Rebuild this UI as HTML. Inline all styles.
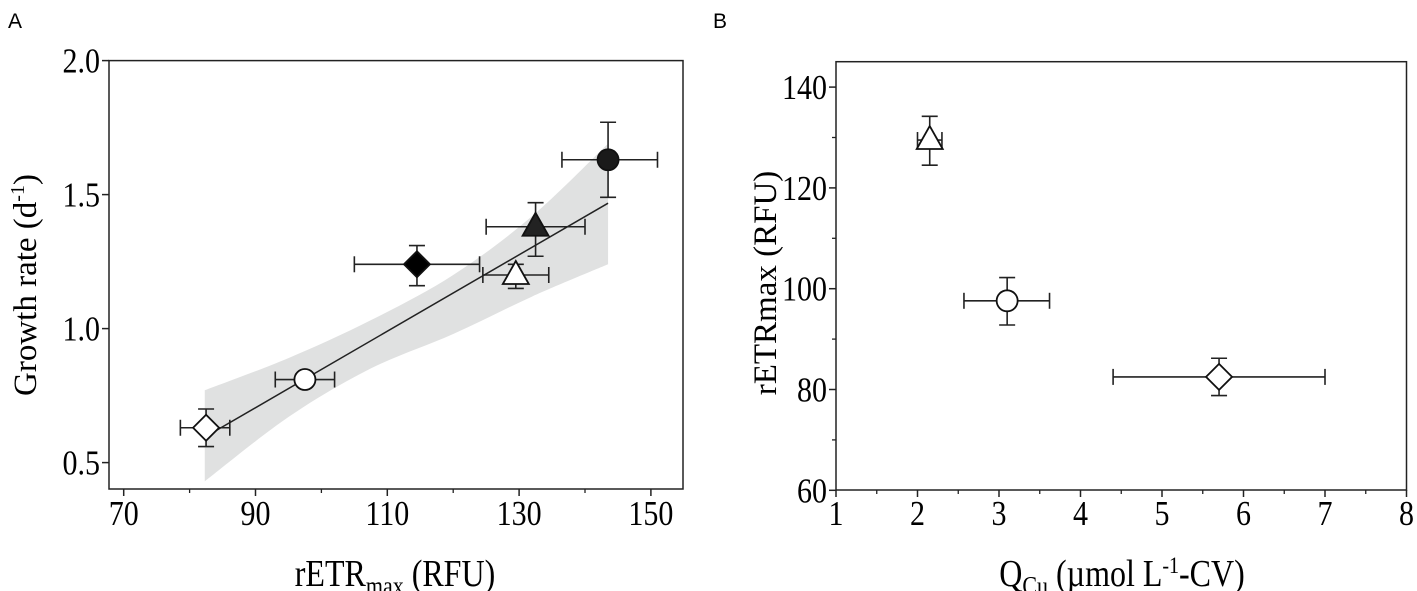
<!DOCTYPE html>
<html><head><meta charset="utf-8"><style>
body{margin:0;background:#fff;}
svg{display:block;font-family:"Liberation Serif",serif;}
</style></head><body>
<svg id="fig" width="1417" height="591" viewBox="0 0 1417 591">
<text x="8" y="28" font-family="Liberation Sans, sans-serif" font-size="21">A</text>
<text x="713" y="28" font-family="Liberation Sans, sans-serif" font-size="21">B</text>
<g id="pa"></g>
<g id="pb"></g>
<text transform="translate(395,586) scale(1,1.18)" text-anchor="middle" font-size="32">rETR<tspan font-size="22" dy="7">max</tspan><tspan dy="-7"> (RFU)</tspan></text>
<text transform="translate(36,285) rotate(-90)" text-anchor="middle" font-size="33">Growth rate (d<tspan font-size="20" dy="-12">-1</tspan><tspan dy="12">)</tspan></text>
<text transform="translate(1122,586) scale(1,1.18)" text-anchor="middle" font-size="32">Q<tspan font-size="22" dy="7">Cu</tspan><tspan dy="-7"> (µmol L</tspan><tspan font-size="20" dy="-11">-1</tspan><tspan dy="11">-CV)</tspan></text>
<text transform="translate(776,283) rotate(-90)" text-anchor="middle" font-size="33">rETRmax (RFU)</text>
</svg>
<script>
// Panel A data
const aX=[82.5,97.5,114.5,129.5,132.5,143.5];
const aY=[0.63,0.81,1.24,1.20,1.38,1.63];
const aXlo=[78.6,93,105,124.5,125,136.5];
const aXhi=[86.1,102,124,134.5,140,151];
const aYlo=[0.56,0.79,1.16,1.15,1.27,1.49];
const aYhi=[0.70,0.83,1.31,1.24,1.47,1.77];
const aShape=['diamond','circle','diamond','triangle','triangle','circle'];
const aFill=['none','none','#000','none','#222','#1a1a1a'];
const aNames=['open-diamond','open-circle','filled-diamond','open-triangle','filled-triangle','filled-circle'];
const fitX=[82.3,143.5];
const fitY=[0.595,1.468];
const bandX=[82.3,95,107.4,120,132,143.5];
const bandUp=[0.77,0.89,1.03,1.20,1.42,1.69];
const bandLo=[0.43,0.67,0.85,0.98,1.12,1.24];
const aXTicks=[70,90,110,130,150];
const aYTicks=[0.5,1.0,1.5,2.0];
const aYTickLabels=['0.5','1.0','1.5','2.0'];
// Panel B data
const bX=[2.15,3.1,5.7];
const bY=[129.5,97.6,82.5];
const bXlo=[2.0,2.57,4.4];
const bXhi=[2.3,3.62,7.0];
const bYlo=[124.5,92.8,78.8];
const bYhi=[134.2,102.2,86.2];
const bShape=['triangle','circle','diamond'];
const bNames=['triangle','circle','diamond'];
const bXTicks=[1,2,3,4,5,6,7,8];
const bYTicks=[60,80,100,120,140];

const NS='http://www.w3.org/2000/svg';
function mk(p,t,at){const e=document.createElementNS(NS,t);for(const k in at)e.setAttribute(k,at[k]);p.appendChild(e);return e;}
function label(p,x,y,anchor,txt){
  return mk(p,'text',{transform:`translate(${x},${y}) scale(1,1.18)`,'text-anchor':anchor,'font-size':30});
}

const axA={x0:109,x1:683,y0:60.6,y1:489};
const sxA=v=>123.7+(v-70)*6.59;
const syA=v=>60.6+(2.0-v)*268;
const axB={x0:836,x1:1406.5,y0:61.7,y1:490};
const sxB=v=>836+(v-1)*81.5;
const syB=v=>87.1+(140-v)*5.04;

function marker(g,shape,cx,cy,fill){
  let e;
  if(shape==='circle') e=mk(g,'circle',{cx:cx,cy:cy,r:10.5});
  else if(shape==='diamond') e=mk(g,'polygon',{points:`${cx},${cy-13} ${cx+13},${cy} ${cx},${cy+13} ${cx-13},${cy}`});
  else e=mk(g,'polygon',{points:`${cx},${cy-14} ${cx+13},${cy+9} ${cx-13},${cy+9}`});
  e.setAttribute('fill',fill==='none'?'#fff':fill);
  e.setAttribute('stroke','#111');e.setAttribute('stroke-width','1.8');
  return e;
}
function errbar(g,x1,y1,x2,y2,vert){
  mk(g,'line',{x1:x1,y1:y1,x2:x2,y2:y2,stroke:'#222','stroke-width':1.6});
  const c=8;
  if(vert){mk(g,'line',{x1:x1-c,y1:y1,x2:x1+c,y2:y1,stroke:'#222','stroke-width':1.6});mk(g,'line',{x1:x2-c,y1:y2,x2:x2+c,y2:y2,stroke:'#222','stroke-width':1.6});}
  else{mk(g,'line',{x1:x1,y1:y1-c,x2:x1,y2:y1+c,stroke:'#222','stroke-width':1.6});mk(g,'line',{x1:x2,y1:y2-c,x2:x2,y2:y2+c,stroke:'#222','stroke-width':1.6});}
}
function frame(g,ax){
  const r=mk(g,'rect',{x:ax.x0,y:ax.y0,width:ax.x1-ax.x0,height:ax.y1-ax.y0,fill:'none',stroke:'#222','stroke-width':1.5});
  
  
}
function smooth(P){
  let d='M'+P[0][0]+','+P[0][1];
  for(let i=0;i<P.length-1;i++){
    const p0=P[Math.max(0,i-1)],p1=P[i],p2=P[i+1],p3=P[Math.min(P.length-1,i+2)];
    const c1=[p1[0]+(p2[0]-p0[0])/6,p1[1]+(p2[1]-p0[1])/6];
    const c2=[p2[0]-(p3[0]-p1[0])/6,p2[1]-(p3[1]-p1[1])/6];
    d+=` C${c1[0]},${c1[1]} ${c2[0]},${c2[1]} ${p2[0]},${p2[1]}`;
  }
  return d;
}

const pa=document.getElementById('pa');
const up=bandX.map((x,i)=>[sxA(x),syA(bandUp[i])]);
const lo=bandX.map((x,i)=>[sxA(x),syA(bandLo[i])]).reverse();
const band=mk(pa,'path',{d:smooth(up)+' L'+lo[0][0]+','+lo[0][1]+smooth(lo).replace(/^M[^C]*/,' ')+' Z',fill:'#e0e1e1'});


const fit=mk(pa,'line',{x1:sxA(fitX[0]),y1:syA(fitY[0]),x2:sxA(fitX[1]),y2:syA(fitY[1]),stroke:'#222','stroke-width':1.5});


frame(pa,axA);
aXTicks.forEach((v,i)=>{
  const x=sxA(v);
  mk(pa,'line',{x1:x,y1:axA.y1,x2:x,y2:axA.y1+7,stroke:'#222','stroke-width':1.5});
  if(i<aXTicks.length-1)mk(pa,'line',{x1:sxA(v+10),y1:axA.y1,x2:sxA(v+10),y2:axA.y1+4,stroke:'#222','stroke-width':1.3});
  const t=label(pa,x,525,'middle');t.textContent=v;
  
  
});
aYTicks.forEach((v,i)=>{
  const y=syA(v);
  mk(pa,'line',{x1:axA.x0-7,y1:y,x2:axA.x0,y2:y,stroke:'#222','stroke-width':1.5});
  const t=label(pa,axA.x0-9,y+12,'end');t.textContent=aYTickLabels[i];
  
  
});
aX.forEach((v,i)=>{
  const g=mk(pa,'g',{});
  
  
  const cx=sxA(v),cy=syA(aY[i]);
  errbar(g,sxA(aXlo[i]),cy,sxA(aXhi[i]),cy,false);
  errbar(g,cx,syA(aYlo[i]),cx,syA(aYhi[i]),true);
  marker(g,aShape[i],cx,cy,aFill[i]);
});

const pb=document.getElementById('pb');
frame(pb,axB);
bXTicks.forEach((v,i)=>{
  const x=sxB(v);
  mk(pb,'line',{x1:x,y1:axB.y1,x2:x,y2:axB.y1+7,stroke:'#222','stroke-width':1.5});
  if(i<bXTicks.length-1)mk(pb,'line',{x1:sxB(v+0.5),y1:axB.y1,x2:sxB(v+0.5),y2:axB.y1+4,stroke:'#222','stroke-width':1.3});
  const t=label(pb,x,525,'middle');t.textContent=v;
  
  
});
bYTicks.forEach((v,i)=>{
  const y=syB(v);
  mk(pb,'line',{x1:axB.x0-7,y1:y,x2:axB.x0,y2:y,stroke:'#222','stroke-width':1.5});
  if(i<bYTicks.length-1)mk(pb,'line',{x1:axB.x0-4,y1:syB(v+10),x2:axB.x0,y2:syB(v+10),stroke:'#222','stroke-width':1.3});
  const t=label(pb,axB.x0-9,y+12,'end');t.textContent=v;
  
  
});
bX.forEach((v,i)=>{
  const g=mk(pb,'g',{});
  
  
  const cx=sxB(v),cy=syB(bY[i]);
  errbar(g,sxB(bXlo[i]),cy,sxB(bXhi[i]),cy,false);
  errbar(g,cx,syB(bYlo[i]),cx,syB(bYhi[i]),true);
  marker(g,bShape[i],cx,cy,'none');
});
</script>
</body></html>
